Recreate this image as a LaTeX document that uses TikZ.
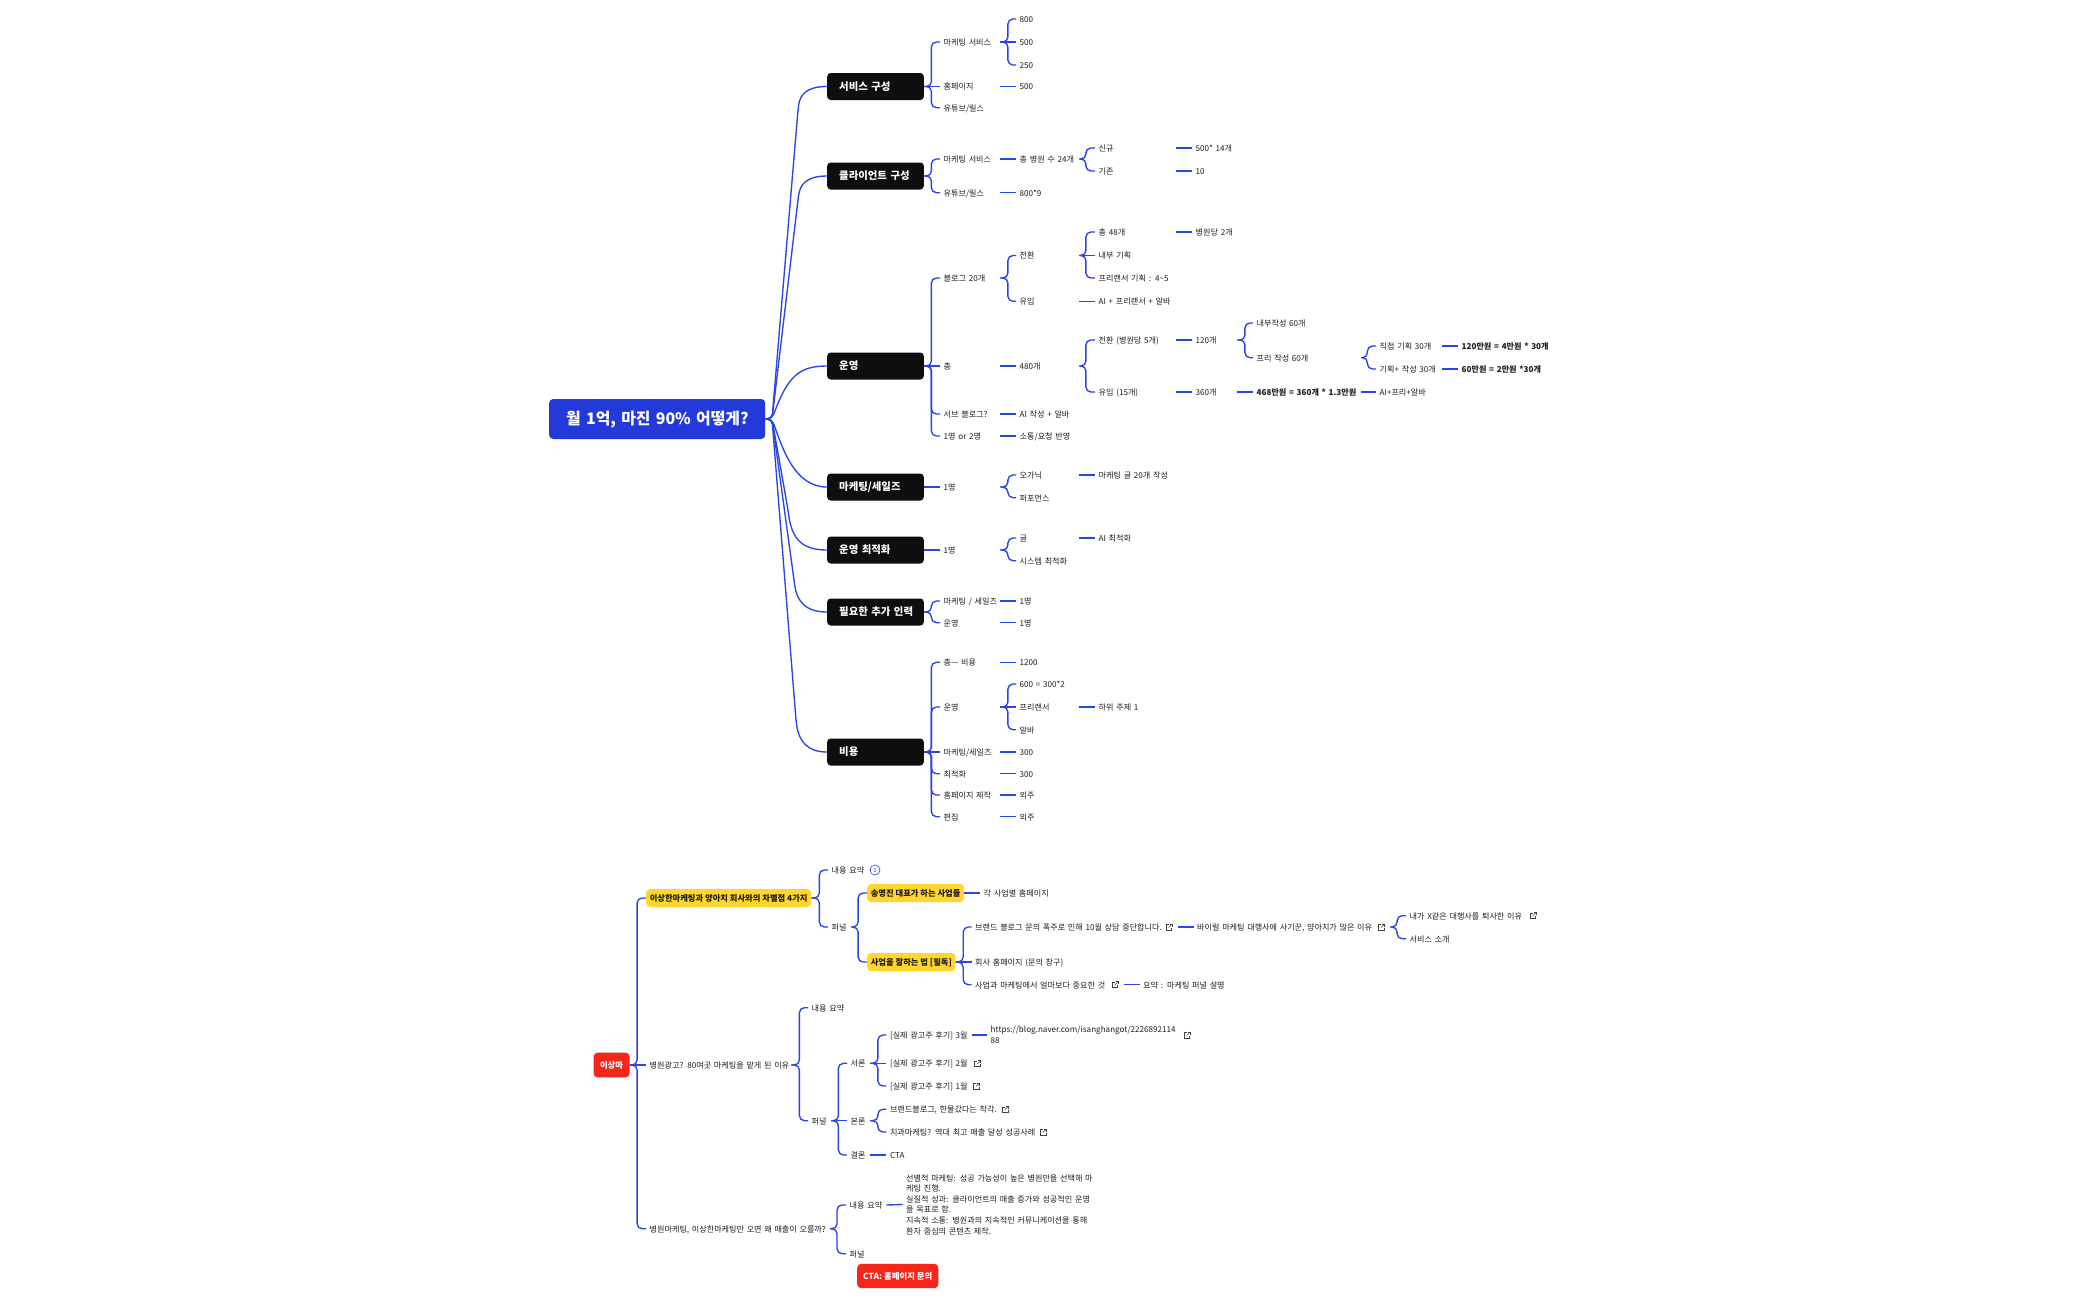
\documentclass[tikz,border=0pt]{standalone}
\usepackage{fontspec}
\setmainfont{Noto Sans CJK KR}
\definecolor{conn}{HTML}{2A45E2}
\definecolor{rootc}{HTML}{2439D9}
\definecolor{blk}{HTML}{0E0E0E}
\definecolor{yel}{HTML}{FFD52E}
\definecolor{redc}{HTML}{F5271B}
\definecolor{ink}{HTML}{1E1E1E}
\newcommand\st[2]{\draw[cn] (#1.east) -- (#2.west);}
\newcommand\br[3]{\draw[cn] (#1.east) -- ++(#3,0) |- (#2.west);}
\newcommand\ext[2]{\begin{scope}[shift={(#1,#2)}]
\draw[ico] (-0.5,-2.5) -- (-3,-2.5) -- (-3,3) -- (2.5,3) -- (2.5,0.5);
\draw[ico] (-0.5,0.5) -- (3,-3);
\draw[ico] (0.5,-3) -- (3,-3) -- (3,-0.5);
\end{scope}}
\newcommand\fs{\fontsize{8.1}{10.6}\selectfont}
\tikzset{
 cn/.style={draw=conn,line width=1.35pt,rounded corners=5pt},
 ico/.style={draw=ink!85,line width=0.5pt},
 base/.style={anchor=west,inner xsep=3.5pt,inner ysep=0pt,align=left,text=ink,font=\fs},
 txt/.style={base,text height=7pt,text depth=0.4pt},
 tw/.style={txt,text width=#1pt,execute at begin node={\hbox to #1pt\bgroup},execute at end node={\hss\egroup}},
 k2/.style={tw=53},
 k3/.style={tw=56},
 k4/.style={tw=74},
 k5/.style={tw=38},
 k6/.style={tw=101},
 k7/.style={tw=59},
 k8/.style={tw=130},
 bd/.style={font=\fs\bfseries},
 lone/.style={anchor=west,rounded corners=3.5pt,fill=blk,text=white,inner xsep=12pt,inner ysep=0pt,text width=72.6pt,minimum height=27pt,align=left,text height=8pt,text depth=0.5pt,font=\fontsize{10.4}{12}\selectfont\bfseries,execute at begin node={\hbox to 72.6pt\bgroup},execute at end node={\hss\egroup}},
 yl/.style={anchor=west,rounded corners=4pt,fill=yel,text=ink,inner xsep=3.6pt,inner ysep=0pt,minimum height=18pt,align=left,text height=7pt,text depth=0.4pt,font=\fontsize{8.3}{10}\selectfont\bfseries},
}
\begin{document}
\begin{tikzpicture}[x=1pt,y=-1pt]
\useasboundingbox[fill=white] (0,0) rectangle (2100,1299);
% ---------- upper map ----------
\node[anchor=west,rounded corners=4pt,fill=rootc,text=white,inner xsep=17pt,inner ysep=0pt,text width=182pt,minimum height=40pt,align=left,text height=12pt,text depth=2pt,font=\fontsize{15.9}{20}\selectfont\bfseries,execute at begin node={\hbox to 182pt\bgroup},execute at end node={\hss\egroup}] (root) at (549,419) {월 1억, 마진 90\% 어떻게?};
\coordinate (hub) at (772,419);
\node[lone] (l1) at (827,86.5) {서비스 구성};
\node[lone] (l2) at (827,176) {클라이언트 구성};
\node[lone] (l3) at (827,366) {운영};
\node[lone] (l4) at (827,487) {마케팅/세일즈};
\node[lone] (l5) at (827,550) {운영 최적화};
\node[lone] (l6) at (827,612) {필요한 추가 인력};
\node[lone] (l7) at (827,752) {비용};
\coordinate (b1) at (798,110);
\coordinate (b2) at (798,200);
\coordinate (b5) at (788,510);
\coordinate (b6) at (794,580);
\coordinate (b7) at (796,720);
\draw[cn] (root.east) -- (hub) -- (b1) .. controls (800,95) and (806,86.5) .. (l1.west);
\draw[cn] (root.east) -- (hub) -- (b2) .. controls (800,185) and (806,176) .. (l2.west);
\draw[cn] (root.east) -- (hub) .. controls (788,375) and (800,366) .. (l3.west);
\draw[cn] (root.east) -- (hub) .. controls (783,450) and (795,487) .. (l4.west);
\draw[cn] (root.east) -- (hub) -- (b5) .. controls (792,540) and (803,550) .. (l5.west);
\draw[cn] (root.east) -- (hub) -- (b6) .. controls (797,602) and (806,612) .. (l6.west);
\draw[cn] (root.east) -- (hub) -- (b7) .. controls (799,742) and (808,752) .. (l7.west);

% service
\node[k2] (a1) at (940,42) {마케팅 서비스};
\node[k2] (a2) at (940,86.5) {홈페이지};
\node[k2] (a3) at (940,107.7) {유튜브/릴스};
\node[k3] (a11) at (1016,19) {800};
\node[k3] (a12) at (1016,42) {500};
\node[k3] (a13) at (1016,65) {250};
\node[k3] (a21) at (1016,86.5) {500};
\br{l1}{a1}{7.4}\st{l1}{a2}\br{l1}{a3}{7.4}
\br{a1}{a11}{7.5}\st{a1}{a12}\br{a1}{a13}{7.5}\st{a2}{a21}
% client
\node[k2] (c1) at (940,159) {마케팅 서비스};
\node[k2] (c2) at (940,192.7) {유튜브/릴스};
\node[k3] (c11) at (1016,159) {총 병원 수 24개};
\node[k3] (c21) at (1016,192.7) {800*9};
\node[k4] (c111) at (1095,148) {신규};
\node[k4] (c112) at (1095,171) {기존};
\node[k5] (c1111) at (1192,148) {500* 14개};
\node[k5] (c1121) at (1192,171) {10};
\br{l2}{c1}{7.4}\br{l2}{c2}{7.4}
\st{c1}{c11}\st{c2}{c21}
\br{c11}{c111}{6.5}\br{c11}{c112}{6.5}
\st{c111}{c1111}\st{c112}{c1121}
% operations
\node[k2] (o1) at (940,278) {블로그 20개};
\node[k2] (o2) at (940,366) {총};
\node[k2] (o3) at (940,414) {서브 블로그?};
\node[k2] (o4) at (940,436) {1명 or 2명};
\node[k3] (o11) at (1016,255.5) {전환};
\node[k3] (o12) at (1016,301.3) {유입};
\node[k4] (o111) at (1095,232) {총 48개};
\node[k4] (o112) at (1095,255.5) {내부 기획};
\node[k4] (o113) at (1095,278) {프리랜서 기획 : 4\textasciitilde5};
\node[k5] (o1111) at (1192,232) {병원당 2개};
\node[k4] (o121) at (1095,301.3) {AI + 프리랜서 + 알바};
\node[k3] (o21) at (1016,366) {480개};
\node[k4] (o211) at (1095,340) {전환 (병원당 5개)};
\node[k4] (o212) at (1095,392) {유입 (15개)};
\node[k5] (o2111) at (1192,340) {120개};
\node[k5] (o2121) at (1192,392) {360개};
\node[k6] (o21111) at (1253,323) {내부작성 60개};
\node[k6] (o21112) at (1253,357.7) {프리 작성 60개};
\node[k7] (o211121) at (1376,346) {직접 기획 30개};
\node[k7] (o211122) at (1376,369) {기획+ 작성 30개};
\node[k8,bd] (o2111211) at (1458,346) {120만원 = 4만원 * 30개};
\node[k8,bd] (o2111221) at (1458,369) {60만원 = 2만원 *30개};
\node[k6,bd] (o21211) at (1253,392) {468만원 = 360개 * 1.3만원};
\node[k7] (o212111) at (1376,392) {AI+프리+알바};
\node[k3] (o31) at (1016,414) {AI 작성 + 알바};
\node[k3] (o41) at (1016,436) {소통/요청 반영};
\br{l3}{o1}{7.4}\st{l3}{o2}\br{l3}{o3}{7.4}\br{l3}{o4}{7.4}
\br{o1}{o11}{7.5}\br{o1}{o12}{7.5}
\br{o11}{o111}{6.5}\st{o11}{o112}\br{o11}{o113}{6.5}
\st{o111}{o1111}\st{o12}{o121}
\st{o2}{o21}\br{o21}{o211}{6.5}\br{o21}{o212}{6.5}
\st{o211}{o2111}\st{o212}{o2121}
\br{o2111}{o21111}{7.5}\br{o2111}{o21112}{7.5}
\br{o21112}{o211121}{6}\br{o21112}{o211122}{6}
\st{o211121}{o2111211}\st{o211122}{o2111221}
\st{o2121}{o21211}\st{o21211}{o212111}
\st{o3}{o31}\st{o4}{o41}
% marketing / sales
\node[k2] (m1) at (940,487) {1명};
\node[k3] (m11) at (1016,475) {오가닉};
\node[k3] (m12) at (1016,497.7) {퍼포먼스};
\node[k4] (m111) at (1095,475) {마케팅 글 20개 작성};
\st{l4}{m1}\br{m1}{m11}{7.5}\br{m1}{m12}{7.5}\st{m11}{m111}
% optimisation
\node[k2] (p1) at (940,550) {1명};
\node[k3] (p11) at (1016,538) {글};
\node[k3] (p12) at (1016,560.7) {시스템 최적화};
\node[k4] (p111) at (1095,538) {AI 최적화};
\st{l5}{p1}\br{p1}{p11}{7.5}\br{p1}{p12}{7.5}\st{p11}{p111}
% extra staff
\node[k2] (h1) at (940,601) {마케팅 / 세일즈};
\node[k2] (h2) at (940,622.7) {운영};
\node[k3] (h11) at (1016,601) {1명};
\node[k3] (h21) at (1016,622.7) {1명};
\br{l6}{h1}{7.4}\br{l6}{h2}{7.4}\st{h1}{h11}\st{h2}{h21}
% cost
\node[k2] (e1) at (940,662.3) {총— 비용};
\node[k2] (e2) at (940,707) {운영};
\node[k2] (e3) at (940,752) {마케팅/세일즈};
\node[k2] (e4) at (940,773.7) {최적화};
\node[k2] (e5) at (940,795) {홈페이지 제작};
\node[k2] (e6) at (940,816.7) {편집};
\node[k3] (e11) at (1016,662.3) {1200};
\node[k3] (e21) at (1016,684) {600 = 300*2};
\node[k3] (e22) at (1016,707) {프리랜서};
\node[k3] (e23) at (1016,729.7) {알바};
\node[k4] (e221) at (1095,707) {하위 주제 1};
\node[k3] (e31) at (1016,752) {300};
\node[k3] (e41) at (1016,773.7) {300};
\node[k3] (e51) at (1016,795) {외주};
\node[k3] (e61) at (1016,816.7) {외주};
\br{l7}{e1}{7.4}\br{l7}{e2}{7.4}\st{l7}{e3}\br{l7}{e4}{7.4}\br{l7}{e5}{7.4}\br{l7}{e6}{7.4}
\st{e1}{e11}\br{e2}{e21}{7.5}\st{e2}{e22}\br{e2}{e23}{7.5}\st{e22}{e221}
\st{e3}{e31}\st{e4}{e41}\st{e5}{e51}\st{e6}{e61}

% ---------- lower map ----------
\node[anchor=center,rounded corners=4pt,fill=redc,text=white,inner sep=0pt,minimum width=36pt,minimum height=24.7pt,font=\fontsize{8.4}{10}\selectfont\bfseries] (x0) at (611.6,1065) {이상마};
\node[yl] (x1) at (646,898) {이상한마케팅과 양아치 회사와의 차별점 4가지};
\node[tw=138] (x2) at (646,1065) {병원광고? 80여곳 마케팅을 맡게 된 이유};
\node[tw=176.6] (x3) at (646,1228.7) {병원마케팅, 이상한마케팅만 오면 왜 매출이 오를까?};
\br{x0}{x1}{7.3}\st{x0}{x2}\br{x0}{x3}{7.3}

\node[tw=35] (x11) at (828,870) {내용 요약};
\node[tw=16] (x12) at (828,927) {퍼널};
\node[circle,draw=conn,line width=0.6pt,inner sep=0pt,minimum size=10pt,text=conn,font=\fontsize{6}{6}\selectfont] (x11n) at (875,870) {1};
\st{x11}{x11n}
\br{x1}{x11}{8}\br{x1}{x12}{8}
\node[yl] (x121) at (867,893) {송명진 대표가 하는 사업들};
\node[yl] (x122) at (867,962) {사업을 잘하는 법 [필독]};
\br{x12}{x121}{6.7}\br{x12}{x122}{6.7}
\node[tw=100] (x1211) at (980,893) {각 사업별 홈페이지};
\st{x121}{x1211}
\node[tw=199.5] (y1) at (971.5,927) {브랜드 블로그 문의 폭주로 인해 10월 상담 중단합니다.};
\node[tw=120] (y2) at (971.5,962) {회사 홈페이지 (문의 창구)};
\node[tw=145.5] (y3) at (971.5,984.7) {사업과 마케팅에서 얼마보다 중요한 것};
\ext{1169}{927}\ext{1115}{984.7}
\draw[cn] (x122.east) -- ++(7.5,0) |- (y1.west);
\draw[cn] (x122.east) -- (y2.west);
\draw[cn] (x122.east) -- ++(7.5,0) |- (y3.west);
\node[tw=189.5] (z1) at (1193.5,927) {바이럴 마케팅 대행사에 사기꾼, 양아치가 많은 이유};
\ext{1381.7}{927}
\st{y1}{z1}
\node[tw=132] (w1) at (1406,915.7) {내가 X같은 대행사를 퇴사한 이유};
\node[tw=132] (w2) at (1406,938.7) {서비스 소개};
\ext{1533}{915.7}
\br{z1}{w1}{6.7}\br{z1}{w2}{6.7}
\node[tw=100] (z3) at (1139.5,984.7) {요약 : 마케팅 퍼널 설명};
\st{y3}{z3}

\node[tw=35] (x21) at (808,1007.7) {내용 요약};
\node[tw=16] (x22) at (808,1120.7) {퍼널};
\br{x2}{x21}{8}\br{x2}{x22}{8}
\node[tw=16] (s1) at (847,1063.3) {서론};
\node[tw=16] (s2) at (847,1120.7) {본론};
\node[tw=16] (s3) at (847,1155) {결론};
\br{x22}{s1}{7}\st{x22}{s2}\br{x22}{s3}{7}
\node[tw=78] (r1) at (886.3,1035) {[실제 광고주 후기] 3월};
\node[tw=78] (r2) at (886.3,1063.3) {[실제 광고주 후기] 2월};
\node[tw=78] (r3) at (886.3,1086) {[실제 광고주 후기] 1월};
\node[tw=100] (r4) at (886.3,1109.3) {브랜드블로그, 한물갔다는 착각.};
\node[tw=150] (r5) at (886.3,1132) {치과마케팅? 역대 최고 매출 달성 성공사례};
\node[tw=40] (r6) at (886.3,1155) {CTA};
\ext{977.7}{1063.3}\ext{976.5}{1086}\ext{1005.5}{1109.3}\ext{1043.4}{1132}
\br{s1}{r1}{7.5}\st{s1}{r2}\br{s1}{r3}{7.5}
\br{s2}{r4}{7.5}\br{s2}{r5}{7.5}\st{s3}{r6}
\node[base,text width=190pt] (u1) at (987,1035) {https://blog.naver.com/isanghangot/2226892114\\88};
\ext{1187}{1035}
\st{r1}{u1}

\node[tw=33] (x31) at (846,1205) {내용 요약};
\node[tw=16] (x32) at (846,1253.7) {퍼널};
\br{x3}{x31}{7}\br{x3}{x32}{7}
\node[base,text width=195pt] (x311) at (902.5,1204.5) {선별적 마케팅: 성공 가능성이 높은 병원만을 선택해 마\\케팅 진행.\\실질적 성과: 클라이언트의 매출 증가와 성공적인 운영\\을 목표로 함.\\지속적 소통: 병원과의 지속적인 커뮤니케이션을 통해\\환자 중심의 콘텐츠 제작.};
\st{x31}{x311}
\node[anchor=west,rounded corners=4pt,fill=redc,text=white,inner xsep=6pt,inner ysep=0pt,minimum width=81pt,minimum height=24.3pt,align=left,font=\fontsize{8.4}{10}\selectfont\bfseries] (cta) at (857,1276) {CTA: 홈페이지 문의};
\end{tikzpicture}
\end{document}
